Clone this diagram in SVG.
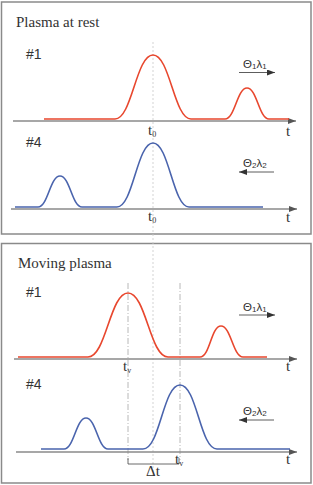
<svg xmlns="http://www.w3.org/2000/svg" width="313" height="485" viewBox="0 0 313 485">
<defs>
<style>
.panel{fill:#fff;stroke:#8a8a8a;stroke-width:1.5}
.axis{fill:none;stroke:#8a8a8a;stroke-width:1.3}
.red{fill:none;stroke:#e8472e;stroke-width:1.6}
.blue{fill:none;stroke:#4a64ad;stroke-width:1.6}
.title{font-family:"Liberation Serif",serif;font-size:15px;fill:#333}
.num{font-family:"Liberation Sans",sans-serif;font-size:14px;fill:#333}
.t{font-family:"Liberation Serif",serif;font-size:15px;fill:#333}
.sub{font-size:8px}
.th{font-family:"Liberation Sans",sans-serif;font-size:11.5px;fill:#333}
.dot{fill:none;stroke:#c8c8c8;stroke-width:0.8;stroke-dasharray:2 2}
.dd{fill:none;stroke:#b0b0b0;stroke-width:0.9;stroke-dasharray:6 2 1 2}
.arr{fill:none;stroke:#333;stroke-width:0.8}
</style>
<marker id="ah" viewBox="0 0 8 6" refX="8" refY="3" markerWidth="8" markerHeight="6" markerUnits="userSpaceOnUse" orient="auto">
<path d="M0,0 L8,3 L0,6 z" fill="#333"/>
</marker>
<marker id="ax" viewBox="0 0 8 6" refX="8" refY="3" markerWidth="8" markerHeight="6" markerUnits="userSpaceOnUse" orient="auto">
<path d="M0,0 L8,3 L0,6 z" fill="#555"/>
</marker>
</defs>
<rect width="313" height="485" fill="#fff"/>
<g id="panel-rest">
<rect class="panel" x="1.5" y="2" width="309.5" height="232"/>
<text class="title" x="16" y="27">Plasma at rest</text>
</g>
<g id="panel-moving">
<rect class="panel" x="1.5" y="243.5" width="309.5" height="239.5"/>
<text class="title" x="18" y="268">Moving plasma</text>
</g>
<g id="connectors">
<line class="dot" x1="153" y1="42" x2="153" y2="476"/>
<line class="dd" x1="128" y1="283" x2="128" y2="460"/>
<line class="dd" x1="180" y1="283" x2="180" y2="460"/>
<path d="M128,458 V464 H179 V458" fill="none" stroke="#444" stroke-width="0.8"/>
<line class="axis" x1="13" y1="121" x2="296" y2="121" marker-end="url(#ax)"/>
<line class="axis" x1="11" y1="209" x2="297" y2="209" marker-end="url(#ax)"/>
<line class="axis" x1="14" y1="359" x2="297" y2="359" marker-end="url(#ax)"/>
<line class="axis" x1="16" y1="452" x2="297" y2="452" marker-end="url(#ax)"/>
<line class="arr" x1="239" y1="72.5" x2="275" y2="72.5" marker-end="url(#ah)"/>
<line class="arr" x1="274" y1="172" x2="239" y2="172" marker-end="url(#ah)"/>
<line class="arr" x1="239" y1="315" x2="275" y2="315" marker-end="url(#ah)"/>
<line class="arr" x1="274" y1="420" x2="239" y2="420" marker-end="url(#ah)"/>
</g>
<g id="signal-rest-1">
<text class="num" x="26" y="59">#1</text>
<path class="red" d="M44,119 H115 C132,119 136,55 153,55 C170,55 174,119 191,119 H225 C235,119 237,88 247,88 C257,88 259,119 269,119 H289"/>
<text class="t" x="148" y="135">t<tspan class="sub" dy="2">0</tspan></text>
<text class="t" x="286" y="136">t</text>
<text class="th" x="243" y="68">Θ<tspan class="sub" dy="1">1</tspan><tspan dy="-1">λ</tspan><tspan class="sub" dy="1">1</tspan></text>
</g>
<g id="signal-rest-4">
<text class="num" x="26" y="147">#4</text>
<path class="blue" d="M15,207 H38 C48,207 50,176 60,176 C70,176 72,207 82,207 H117 C133,207 137,143 153,143 C169,143 173,207 189,207 H263"/>
<text class="t" x="148" y="221">t<tspan class="sub" dy="2">0</tspan></text>
<text class="t" x="286" y="222">t</text>
<text class="th" x="243" y="167">Θ<tspan class="sub" dy="1">2</tspan><tspan dy="-1">λ</tspan><tspan class="sub" dy="1">2</tspan></text>
</g>
<g id="signal-moving-1">
<text class="num" x="26" y="297">#1</text>
<path class="red" d="M18,357 H88 C106,357 110,293 128,293 C146,293 150,357 168,357 H200 C210,357 211,326 221,326 C231,326 233,357 243,357 H267"/>
<text class="t" x="123" y="371">t<tspan class="sub" dy="2">v</tspan></text>
<text class="t" x="286" y="371">t</text>
<text class="th" x="243" y="311">Θ<tspan class="sub" dy="1">1</tspan><tspan dy="-1">λ</tspan><tspan class="sub" dy="1">1</tspan></text>
</g>
<g id="signal-moving-4">
<text class="num" x="26" y="389">#4</text>
<path class="blue" d="M41,449 H64 C74,449 76,418 86,418 C96,418 98,449 108,449 H143 C160,449 163,385 180,385 C197,385 200,449 217,449 H290"/>
<text class="t" x="175" y="464">t<tspan class="sub" dy="2">v</tspan></text>
<text class="t" x="286" y="464">t</text>
<text class="th" x="243" y="415">Θ<tspan class="sub" dy="1">2</tspan><tspan dy="-1">λ</tspan><tspan class="sub" dy="1">2</tspan></text>
<text class="t" x="146" y="476">Δt</text>
</g>
</svg>
